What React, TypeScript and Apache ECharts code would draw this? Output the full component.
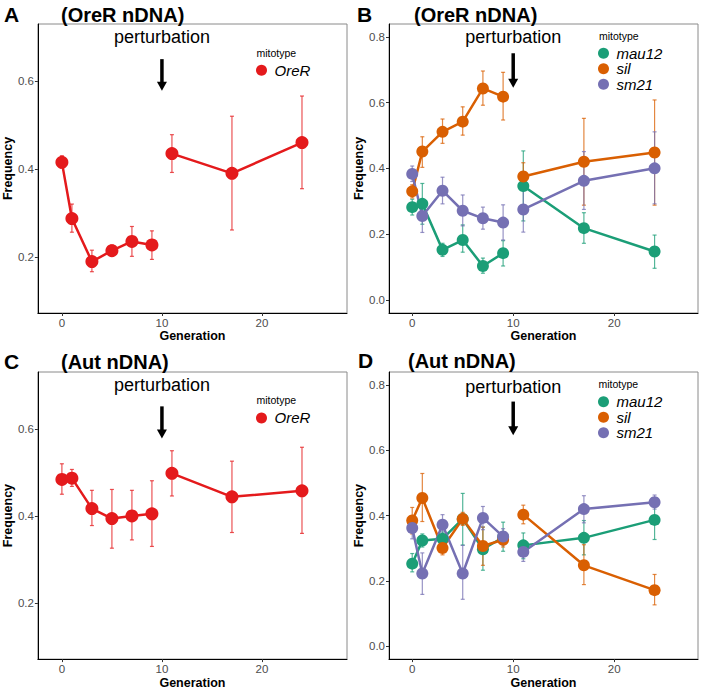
import React, { useEffect, useRef } from "react";
import * as echarts from "echarts";

// ---------- data ----------
const generations = [0, 1, 3, 5, 7, 9, 11, 17, 24];
const perturbationGen = 10;
const xTicks = [0, 10, 20];
const yTicksOre = [0.2, 0.4, 0.6];
const yTicksMix = [0.0, 0.2, 0.4, 0.6, 0.8];

// Panel A (OreR nDNA, OreR mitotype)
const aOreRMean = [0.415, 0.287, 0.189, 0.214, 0.235, 0.227, 0.435, 0.39, 0.46];
const aOreRLo = [0.402, 0.256, 0.166, 0.202, 0.201, 0.194, 0.392, 0.261, 0.355];
const aOreRHi = [0.43, 0.32, 0.215, 0.227, 0.269, 0.259, 0.478, 0.52, 0.566];

// Panel B (OreR nDNA, mixed mitotypes)
const bMau12Mean = [0.282, 0.292, 0.152, 0.182, 0.103, 0.142, 0.346, 0.218, 0.147];
const bMau12Lo = [0.258, 0.23, 0.132, 0.145, 0.081, 0.103, 0.24, 0.172, 0.096];
const bMau12Hi = [0.306, 0.354, 0.172, 0.228, 0.127, 0.18, 0.453, 0.265, 0.197];
const bSilMean = [0.33, 0.451, 0.511, 0.542, 0.643, 0.618, 0.375, 0.42, 0.448];
const bSilLo = [0.31, 0.403, 0.476, 0.501, 0.592, 0.547, 0.335, 0.288, 0.288];
const bSilHi = [0.35, 0.496, 0.55, 0.587, 0.696, 0.692, 0.417, 0.552, 0.608];
const bSm21Mean = [0.383, 0.255, 0.332, 0.271, 0.248, 0.235, 0.275, 0.362, 0.4];
const bSm21Lo = [0.36, 0.205, 0.292, 0.225, 0.215, 0.182, 0.206, 0.275, 0.292];
const bSm21Hi = [0.407, 0.304, 0.373, 0.319, 0.282, 0.289, 0.349, 0.451, 0.511];

// Panel C (Aut nDNA, OreR mitotype)
const cOreRMean = [0.484, 0.487, 0.417, 0.394, 0.4, 0.405, 0.498, 0.444, 0.458];
const cOreRLo = [0.45, 0.468, 0.378, 0.326, 0.345, 0.33, 0.446, 0.362, 0.36];
const cOreRHi = [0.52, 0.507, 0.459, 0.461, 0.459, 0.481, 0.55, 0.526, 0.558];

// Panel D (Aut nDNA, mixed mitotypes)
const dMau12Mean = [0.253, 0.324, 0.329, 0.39, 0.297, 0.334, 0.309, 0.332, 0.387];
const dMau12Lo = [0.228, 0.304, 0.31, 0.31, 0.233, 0.291, 0.268, 0.28, 0.327];
const dMau12Hi = [0.284, 0.344, 0.35, 0.468, 0.365, 0.38, 0.347, 0.385, 0.44];
const dSilMean = [0.385, 0.454, 0.301, 0.39, 0.307, 0.326, 0.403, 0.248, 0.172];
const dSilLo = [0.344, 0.382, 0.28, 0.37, 0.248, 0.304, 0.375, 0.189, 0.127];
const dSilHi = [0.425, 0.529, 0.32, 0.41, 0.365, 0.347, 0.432, 0.311, 0.22];
const dSm21Mean = [0.362, 0.223, 0.372, 0.223, 0.393, 0.336, 0.289, 0.42, 0.441];
const dSm21Lo = [0.329, 0.159, 0.339, 0.144, 0.357, 0.31, 0.26, 0.378, 0.42];
const dSm21Hi = [0.39, 0.286, 0.403, 0.309, 0.428, 0.36, 0.314, 0.461, 0.463];

const panelLetters = ["A", "B", "C", "D"];
const panelTitles = ["(OreR nDNA)", "(OreR nDNA)", "(Aut nDNA)", "(Aut nDNA)"];
const annotationText = "perturbation";
const legendTitle = "mitotype";

const COLORS: Record<string, string> = {
  OreR: "#E41A1C",
  mau12: "#1B9E77",
  sil: "#D95F02",
  sm21: "#7570B3",
};

const FONT = "'Liberation Sans', Arial, Helvetica, sans-serif";

type Mito = { name: string; mean: number[]; lo: number[]; hi: number[] };

const panels: { mitos: Mito[]; yMin: number; yMax: number; yTicks: number[]; xMin: number; xMax: number; textY: number; arrowTop: number; arrowBottom: number; symbol: number }[] = [
  {
    mitos: [{ name: "OreR", mean: aOreRMean, lo: aOreRLo, hi: aOreRHi }],
    yMin: 0.072, yMax: 0.73, yTicks: yTicksOre, xMin: -2.4, xMax: 28.5,
    textY: 0.7, arrowTop: 0.65, arrowBottom: 0.578, symbol: 13,
  },
  {
    mitos: [
      { name: "mau12", mean: bMau12Mean, lo: bMau12Lo, hi: bMau12Hi },
      { name: "sil", mean: bSilMean, lo: bSilLo, hi: bSilHi },
      { name: "sm21", mean: bSm21Mean, lo: bSm21Lo, hi: bSm21Hi },
    ],
    yMin: -0.04, yMax: 0.839, yTicks: yTicksMix, xMin: -2.3, xMax: 28.3,
    textY: 0.8, arrowTop: 0.75, arrowBottom: 0.645, symbol: 12,
  },
  {
    mitos: [{ name: "OreR", mean: cOreRMean, lo: cOreRLo, hi: cOreRHi }],
    yMin: 0.071, yMax: 0.731, yTicks: yTicksOre, xMin: -2.4, xMax: 28.5,
    textY: 0.7, arrowTop: 0.652, arrowBottom: 0.578, symbol: 13,
  },
  {
    mitos: [
      { name: "mau12", mean: dMau12Mean, lo: dMau12Lo, hi: dMau12Hi },
      { name: "sil", mean: dSilMean, lo: dSilLo, hi: dSilHi },
      { name: "sm21", mean: dSm21Mean, lo: dSm21Lo, hi: dSm21Hi },
    ],
    yMin: -0.039, yMax: 0.8395, yTicks: yTicksMix, xMin: -2.3, xMax: 28.3,
    textY: 0.795, arrowTop: 0.749, arrowBottom: 0.646, symbol: 12,
  },
];

const grids = [
  { left: 35, top: 24, width: 312, height: 289 },
  { left: 389, top: 24, width: 309, height: 289 },
  { left: 35, top: 372, width: 312, height: 289 },
  { left: 389, top: 372, width: 309, height: 289 },
];

const legendPos = [
  { left: 256, top: 62.5, titleX: 256.5, titleY: 53 },
  { left: 598, top: 45.6, titleX: 599, titleY: 36 },
  { left: 256, top: 410.2, titleX: 256.5, titleY: 400 },
  { left: 598, top: 394, titleX: 598.5, titleY: 383.5 },
];

const titlePos = [
  { lx: 4, ly: 14, tx: 61, ty: 15 },
  { lx: 357, ly: 14, tx: 414, ty: 15 },
  { lx: 4, ly: 361, tx: 61, ty: 362 },
  { lx: 358, ly: 360, tx: 408, ty: 361 },
];

function buildOption() {
  const series: any[] = [];
  panels.forEach((p, gi) => {
    p.mitos.forEach((m) => {
      const color = COLORS[m.name];
      const pre: number[][] = [];
      const post: number[][] = [];
      const bars: number[][] = [];
      generations.forEach((g, i) => {
        (g < perturbationGen ? pre : post).push([g, m.mean[i]]);
        bars.push([g, m.lo[i], m.hi[i]]);
      });
      series.push({
        type: "custom",
        name: m.name,
        xAxisIndex: gi,
        yAxisIndex: gi,
        z: 1,
        data: bars,
        encode: { x: 0, y: [1, 2] },
        itemStyle: { color },
        renderItem: (params: any, api: any) => {
          const x = api.value(0);
          const lo = api.coord([x, api.value(1)]);
          const hi = api.coord([x, api.value(2)]);
          const w = 2;
          const style = { stroke: color, lineWidth: 1.2, opacity: 0.75 };
          return {
            type: "group",
            children: [
              { type: "line", shape: { x1: lo[0], y1: lo[1], x2: hi[0], y2: hi[1] }, style },
              { type: "line", shape: { x1: hi[0] - w, y1: hi[1], x2: hi[0] + w, y2: hi[1] }, style },
              { type: "line", shape: { x1: lo[0] - w, y1: lo[1], x2: lo[0] + w, y2: lo[1] }, style },
            ],
          };
        },
      });
      [pre, post].forEach((seg) => {
        series.push({
          type: "line",
          name: m.name,
          xAxisIndex: gi,
          yAxisIndex: gi,
          z: 2,
          data: seg,
          symbol: "circle",
          symbolSize: p.symbol,
          showSymbol: true,
          lineStyle: { color, width: 2.5 },
          itemStyle: { color, opacity: 1 },
          emphasis: { disabled: true },
        });
      });
    });
  });

  const axisFontColor = "#4D4D4D";
  const xAxis = panels.map((p, gi) => ({
    gridIndex: gi,
    type: "value",
    min: p.xMin,
    max: p.xMax,
    name: gi >= 0 ? "Generation" : "",
    nameLocation: "middle",
    nameGap: 14,
    nameTextStyle: { fontFamily: FONT, fontWeight: "bold", fontSize: 12.5, color: "#000" },
    axisLine: { show: true, onZero: false, lineStyle: { color: "#000", width: 1 } },
    axisTick: { show: true, length: 3, customValues: xTicks, lineStyle: { color: "#333" } },
    axisLabel: { customValues: xTicks, margin: 4, fontFamily: FONT, fontSize: 11.5, color: axisFontColor },
    splitLine: { show: false },
  }));
  const yAxis = panels.map((p, gi) => ({
    gridIndex: gi,
    type: "value",
    min: p.yMin,
    max: p.yMax,
    name: "Frequency",
    nameLocation: "middle",
    nameGap: gi % 2 === 0 ? 21 : 24,
    nameRotate: 90,
    nameTextStyle: { fontFamily: FONT, fontWeight: "bold", fontSize: 12.5, color: "#000" },
    axisLine: { show: true, onZero: false, lineStyle: { color: "#000", width: 1 } },
    axisTick: { show: true, length: 3, customValues: p.yTicks, lineStyle: { color: "#333" } },
    axisLabel: {
      customValues: p.yTicks,
      margin: 4,
      fontFamily: FONT,
      fontSize: 11.5,
      color: axisFontColor,
      formatter: (v: number) => v.toFixed(1),
    },
    splitLine: { show: false },
  }));

  const legend = panels.map((p, gi) => ({
    data: p.mitos.map((m) => m.name),
    orient: "vertical",
    left: legendPos[gi].left,
    top: legendPos[gi].top,
    padding: 0,
    itemGap: 0,
    itemWidth: 16,
    itemHeight: 11,
    icon: "circle",
    selectedMode: false,
    textStyle: { fontFamily: FONT, fontStyle: "italic", fontSize: 15, color: "#000", lineHeight: 15.5, padding: [0, 0, 0, 0] },
  }));

  return {
    animation: false,
    backgroundColor: "#fff",
    grid: grids.map((g) => ({ ...g, show: true, borderColor: "#8a8a8a", borderWidth: 1, backgroundColor: "transparent" })),
    xAxis,
    yAxis,
    legend,
    series,
  };
}

function buildGraphic(chart: any) {
  const els: any[] = [];
  panels.forEach((p, gi) => {
    const tp = titlePos[gi];
    els.push({
      type: "text", x: tp.lx, y: tp.ly,
      style: { text: panelLetters[gi], fontFamily: FONT, fontWeight: "bold", fontSize: 21, fill: "#000", verticalAlign: "middle", align: "left" },
    });
    els.push({
      type: "text", x: tp.tx, y: tp.ty,
      style: { text: panelTitles[gi], fontFamily: FONT, fontWeight: "bold", fontSize: 20, fill: "#000", verticalAlign: "middle", align: "left" },
    });
    const lp = legendPos[gi];
    els.push({
      type: "text", x: lp.titleX, y: lp.titleY,
      style: { text: legendTitle, fontFamily: FONT, fontSize: 10.5, fill: "#000", verticalAlign: "middle", align: "left" },
    });
    const t = chart.convertToPixel({ xAxisIndex: gi, yAxisIndex: gi }, [perturbationGen, p.textY]);
    const a1 = chart.convertToPixel({ xAxisIndex: gi, yAxisIndex: gi }, [perturbationGen, p.arrowTop]);
    const a2 = chart.convertToPixel({ xAxisIndex: gi, yAxisIndex: gi }, [perturbationGen, p.arrowBottom]);
    els.push({
      type: "text", x: t[0], y: t[1],
      style: { text: annotationText, fontFamily: FONT, fontSize: 18, fill: "#000", verticalAlign: "middle", align: "center" },
    });
    els.push({
      type: "line",
      shape: { x1: a1[0], y1: a1[1], x2: a2[0], y2: a2[1] - 6 },
      style: { stroke: "#000", lineWidth: 3.5 },
    });
    els.push({
      type: "polygon",
      shape: { points: [[a2[0] - 5, a2[1] - 9], [a2[0] + 5, a2[1] - 9], [a2[0], a2[1]]] },
      style: { fill: "#000" },
    });
  });
  return els;
}

export default function App() {
  const ref = useRef<HTMLDivElement>(null);
  useEffect(() => {
    document.body.style.margin = "0";
    if (!ref.current) return;
    const chart = echarts.init(ref.current, undefined, { renderer: "svg" });
    chart.setOption(buildOption() as any);
    chart.setOption({ graphic: buildGraphic(chart) } as any);
    return () => chart.dispose();
  }, []);
  return <div ref={ref} style={{ width: 702, height: 690 }} />;
}
